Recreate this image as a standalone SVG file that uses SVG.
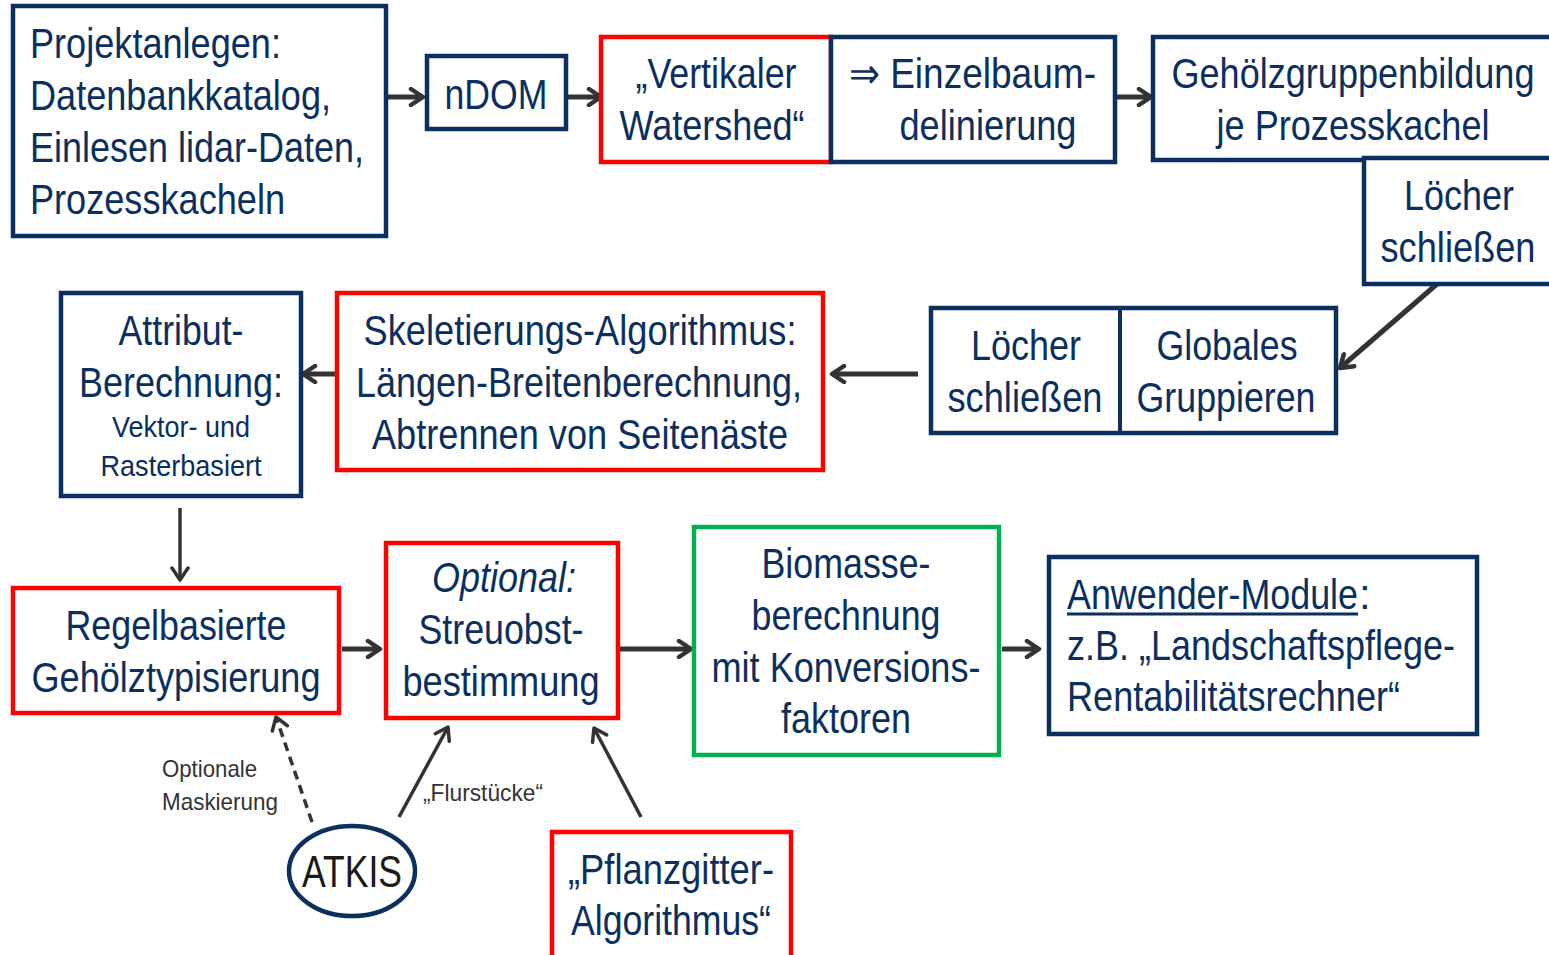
<svg xmlns="http://www.w3.org/2000/svg" width="1549" height="955" viewBox="0 0 1549 955">
<defs>
<style>
.bx{fill:#fff;stroke:#0b2f5e;stroke-width:4.5}
.rd{fill:#fff;stroke:#ff0000;stroke-width:4.5}
.gr{fill:#fff;stroke:#00b050;stroke-width:4.5}
text{font-family:"Liberation Sans Narrow","Liberation Sans",Arial,sans-serif;fill:#0b2f5e}
.t{font-size:42px}
.m{text-anchor:middle}
.s{font-size:29px}
.lb{font-size:24px;fill:#333}
.ar{stroke:#333;stroke-width:5;fill:none}
.ar2{stroke:#333;stroke-width:3.5;fill:none}
</style>
<marker id="ah" viewBox="0 0 20 20" refX="17" refY="10" markerWidth="20" markerHeight="20" markerUnits="userSpaceOnUse" orient="auto">
<path d="M5,2 L17,10 L5,18" fill="none" stroke="#333" stroke-width="4.5" stroke-linecap="round" stroke-linejoin="round"/>
</marker>
<marker id="ah2" viewBox="0 0 20 20" refX="17" refY="10" markerWidth="20" markerHeight="20" markerUnits="userSpaceOnUse" orient="auto">
<path d="M5,2 L17,10 L5,18" fill="none" stroke="#333" stroke-width="3.5" stroke-linecap="round" stroke-linejoin="round"/>
</marker>
</defs>
<rect width="1549" height="955" fill="#fff"/>

<g id="connectors">
<line class="ar" x1="388" y1="97" x2="423" y2="97" marker-end="url(#ah)"/>
<line class="ar" x1="568" y1="97" x2="601" y2="97" marker-end="url(#ah)"/>
<line class="ar" x1="1117" y1="97" x2="1151" y2="97" marker-end="url(#ah)"/>
<line class="ar" x1="1437" y1="284" x2="1340" y2="368" marker-end="url(#ah)"/>
<line class="ar" x1="918" y1="374" x2="832" y2="374" marker-end="url(#ah)"/>
<line class="ar" x1="335" y1="374" x2="303" y2="374" marker-end="url(#ah)"/>
<line class="ar2" x1="180" y1="508" x2="180" y2="580" marker-end="url(#ah2)"/>
<line class="ar" x1="342" y1="649" x2="380" y2="649" marker-end="url(#ah)"/>
<line class="ar" x1="620" y1="649" x2="691" y2="649" marker-end="url(#ah)"/>
<line class="ar" x1="1002" y1="649" x2="1039" y2="649" marker-end="url(#ah)"/>
<line class="ar2" x1="312" y1="822" x2="276" y2="717" stroke-dasharray="9,6" marker-end="url(#ah2)"/>
<line class="ar2" x1="399" y1="817" x2="448" y2="727" marker-end="url(#ah2)"/>
<line class="ar2" x1="641" y1="817" x2="594" y2="728" marker-end="url(#ah2)"/>
<text class="lb" x="162" y="777" textLength="95" lengthAdjust="spacingAndGlyphs">Optionale</text>
<text class="lb" x="162" y="810" textLength="116" lengthAdjust="spacingAndGlyphs">Maskierung</text>
<text class="lb" x="423" y="801" font-size="22" textLength="120" lengthAdjust="spacingAndGlyphs">„Flurstücke“</text>
</g>

<g id="projekt">
<rect class="bx" x="13" y="6" width="373" height="230"/>
<text class="t" x="30" y="58" textLength="251" lengthAdjust="spacingAndGlyphs">Projektanlegen:</text>
<text class="t" x="30" y="110" textLength="301" lengthAdjust="spacingAndGlyphs">Datenbankkatalog,</text>
<text class="t" x="30" y="162" textLength="334" lengthAdjust="spacingAndGlyphs">Einlesen lidar-Daten,</text>
<text class="t" x="30" y="214" textLength="255" lengthAdjust="spacingAndGlyphs">Prozesskacheln</text>
</g>

<g id="ndom">
<rect class="bx" x="427" y="56" width="139" height="73"/>
<text class="t m" x="496" y="109" textLength="103" lengthAdjust="spacingAndGlyphs">nDOM</text>
</g>

<g id="watershed">
<rect class="rd" x="601" y="37" width="230" height="125"/>
<text class="t m" x="716" y="88" textLength="161" lengthAdjust="spacingAndGlyphs">„Vertikaler</text>
<text class="t m" x="712" y="140" textLength="185" lengthAdjust="spacingAndGlyphs">Watershed“</text>
</g>

<g id="einzelbaum">
<rect class="bx" x="831" y="37" width="284" height="125"/>
<text class="t" x="849" y="88" textLength="247" lengthAdjust="spacingAndGlyphs">⇒ Einzelbaum-</text>
<text class="t m" x="988" y="140" textLength="177" lengthAdjust="spacingAndGlyphs">delinierung</text>
</g>

<g id="gehoelzgruppen">
<rect class="bx" x="1153" y="37" width="410" height="123"/>
<text class="t m" x="1353" y="88" textLength="363" lengthAdjust="spacingAndGlyphs">Gehölzgruppenbildung</text>
<text class="t m" x="1353" y="140" textLength="273" lengthAdjust="spacingAndGlyphs">je Prozesskachel</text>
</g>

<g id="loecher1">
<rect class="bx" x="1364" y="158" width="200" height="126"/>
<text class="t m" x="1459" y="210" textLength="110" lengthAdjust="spacingAndGlyphs">Löcher</text>
<text class="t m" x="1458" y="262" textLength="155" lengthAdjust="spacingAndGlyphs">schließen</text>
</g>

<g id="loecher-global">
<rect class="bx" x="931" y="308" width="405" height="125"/>
<line x1="1120" y1="308" x2="1120" y2="433" stroke="#0b2f5e" stroke-width="4"/>
<text class="t m" x="1026" y="360" textLength="110" lengthAdjust="spacingAndGlyphs">Löcher</text>
<text class="t m" x="1025" y="412" textLength="155" lengthAdjust="spacingAndGlyphs">schließen</text>
<text class="t m" x="1227" y="360" textLength="141" lengthAdjust="spacingAndGlyphs">Globales</text>
<text class="t m" x="1226" y="412" textLength="179" lengthAdjust="spacingAndGlyphs">Gruppieren</text>
</g>

<g id="skelett">
<rect class="rd" x="337" y="293" width="486" height="177"/>
<text class="t m" x="580" y="345" textLength="433" lengthAdjust="spacingAndGlyphs">Skeletierungs-Algorithmus:</text>
<text class="t m" x="579" y="397" textLength="446" lengthAdjust="spacingAndGlyphs">Längen-Breitenberechnung,</text>
<text class="t m" x="580" y="449" textLength="416" lengthAdjust="spacingAndGlyphs">Abtrennen von Seitenäste</text>
</g>

<g id="attribut">
<rect class="bx" x="61" y="293" width="240" height="203"/>
<text class="t m" x="181" y="345" textLength="125" lengthAdjust="spacingAndGlyphs">Attribut-</text>
<text class="t m" x="181" y="397" textLength="204" lengthAdjust="spacingAndGlyphs">Berechnung:</text>
<text class="s m" x="181" y="437" textLength="138" lengthAdjust="spacingAndGlyphs">Vektor- und</text>
<text class="s m" x="181" y="476" textLength="161" lengthAdjust="spacingAndGlyphs">Rasterbasiert</text>
</g>

<g id="regel">
<rect class="rd" x="13" y="588" width="326" height="125"/>
<text class="t m" x="176" y="640" textLength="221" lengthAdjust="spacingAndGlyphs">Regelbasierte</text>
<text class="t m" x="176" y="692" textLength="289" lengthAdjust="spacingAndGlyphs">Gehölztypisierung</text>
</g>

<g id="streuobst">
<rect class="rd" x="386" y="543" width="232" height="175"/>
<text class="t m" x="504" y="592" font-style="italic" textLength="144" lengthAdjust="spacingAndGlyphs">Optional:</text>
<text class="t m" x="501" y="644" textLength="165" lengthAdjust="spacingAndGlyphs">Streuobst-</text>
<text class="t m" x="501" y="696" textLength="197" lengthAdjust="spacingAndGlyphs">bestimmung</text>
</g>

<g id="biomasse">
<rect class="gr" x="694" y="527" width="305" height="228"/>
<text class="t m" x="846" y="578" textLength="169" lengthAdjust="spacingAndGlyphs">Biomasse-</text>
<text class="t m" x="846" y="630" textLength="189" lengthAdjust="spacingAndGlyphs">berechnung</text>
<text class="t m" x="846" y="682" textLength="269" lengthAdjust="spacingAndGlyphs">mit Konversions-</text>
<text class="t m" x="846" y="733" textLength="130" lengthAdjust="spacingAndGlyphs">faktoren</text>
</g>

<g id="anwender">
<rect class="bx" x="1049" y="557" width="428" height="177"/>
<text class="t" x="1067" y="609" textLength="291" lengthAdjust="spacingAndGlyphs">Anwender-Module</text>
<text class="t" x="1359" y="609">:</text>
<line x1="1067" y1="614" x2="1358" y2="614" stroke="#0b2f5e" stroke-width="3"/>
<text class="t" x="1067" y="660" textLength="388" lengthAdjust="spacingAndGlyphs">z.B. „Landschaftspflege-</text>
<text class="t" x="1067" y="711" textLength="333" lengthAdjust="spacingAndGlyphs">Rentabilitätsrechner“</text>
</g>

<g id="atkis">
<ellipse cx="352" cy="871" rx="63" ry="45" fill="#fff" stroke="#0b2f5e" stroke-width="4.5"/>
<text class="t m" x="352" y="887" style="fill:#1a1a1a;font-size:44px" textLength="100" lengthAdjust="spacingAndGlyphs">ATKIS</text>
</g>

<g id="pflanzgitter">
<rect class="rd" x="552" y="832" width="239" height="140"/>
<text class="t m" x="671" y="884" textLength="206" lengthAdjust="spacingAndGlyphs">„Pflanzgitter-</text>
<text class="t m" x="671" y="935" textLength="200" lengthAdjust="spacingAndGlyphs">Algorithmus“</text>
</g>
</svg>
